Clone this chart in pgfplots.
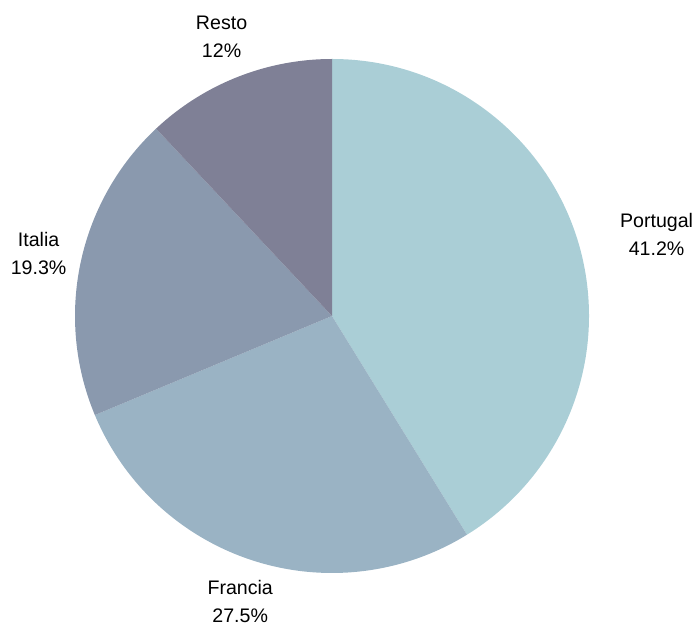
\documentclass[border=0pt]{standalone}
\usepackage{fontspec}
\setmainfont{Liberation Sans}
\usepackage{pgfplots}
\usepackage{pgfplotstable}
\pgfplotsset{compat=1.18}
\definecolor{pie0}{HTML}{AACED6}
\definecolor{pie1}{HTML}{9AB3C4}
\definecolor{pie2}{HTML}{8A99AE}
\definecolor{pie3}{HTML}{7F8096}

% share (%) and horizontal label nudge (bp)
\pgfplotstableread{
name     value shift
Portugal 41.2  36
Francia  27.5  0
Italia   19.3  0
Resto    12    0
}\piedata

\begin{document}
\begin{tikzpicture}
\begin{axis}[
    x=1bp, y=1bp,
    xmin=-332, xmax=368,
    ymin=-309, ymax=316,
    hide axis,
    clip=false,
]
\path (rel axis cs:0,0) rectangle (rel axis cs:1,1);
\pgfplotsextra{
    \pgfplotstablegetrowsof{\piedata}
    \pgfmathtruncatemacro\lastrow{\pgfplotsretval-1}
    \gdef\curang{90}
    \foreach \i in {0,...,\lastrow}{
        \pgfplotstablegetelem{\i}{value}\of\piedata \let\val\pgfplotsretval
        \pgfplotstablegetelem{\i}{name}\of\piedata \let\nm\pgfplotsretval
        \pgfplotstablegetelem{\i}{shift}\of\piedata \let\sh\pgfplotsretval
        \pgfmathsetmacro\endang{\curang-3.6*\val}
        \pgfmathsetmacro\midang{\curang-1.8*\val}
        \fill[pie\i] (axis cs:0,0) -- (axis cs:{257*cos(\curang)},{257*sin(\curang)})
            arc[start angle=\curang, end angle=\endang, radius=257bp] -- cycle;
        \node[align=center, font=\fontsize{19.6bp}{28bp}\selectfont, xshift=\sh bp]
            at (axis cs:{300*cos(\midang)},{300*sin(\midang)}) {\nm\\\val\%};
        \xdef\curang{\endang}
    }
}
\end{axis}
\end{tikzpicture}
\end{document}
